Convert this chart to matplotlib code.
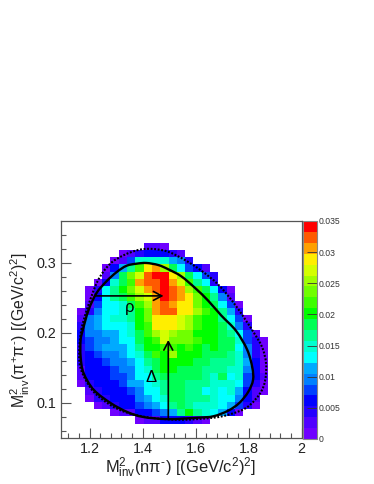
import numpy as np
import matplotlib
matplotlib.use("Agg")
import matplotlib.pyplot as plt
from matplotlib.colors import ListedColormap, BoundaryNorm
from matplotlib.cm import ScalarMappable
from matplotlib.patches import PathPatch
from matplotlib.path import Path

plt.rcParams["font.family"] = ["Liberation Sans", "DejaVu Sans"]
plt.rcParams["mathtext.fontset"] = "custom"
plt.rcParams["mathtext.rm"] = "Liberation Sans"
plt.rcParams["mathtext.it"] = "Liberation Sans"
plt.rcParams["mathtext.bf"] = "Liberation Sans"

# ==============================
# DATA
# ==============================

# histogram cells, as colour level per row from the top
# (level 0-19 = one band of the 0-0.035 palette)
row_start = [8, 5, 4, 3, 3, 2, 1, 1, 1, 0, 0, 0, 0, 0, 0, 0, 0, 0, 0, 0, 1, 1, 2, 4, 7]
row_levels = [
    [1, 1, 0],
    [0, 1, 2, 3, 3, 3, 2, 1],
    [0, 1, 4, 8, 8, 8, 8, 6, 5, 2],
    [0, 3, 6, 9, 12, 16, 17, 14, 10, 7, 4, 3, 1],
    [1, 5, 10, 13, 15, 18, 19, 19, 16, 14, 10, 7, 4, 2],
    [0, 3, 8, 10, 12, 17, 18, 18, 19, 17, 15, 12, 9, 7, 2],
    [0, 2, 7, 9, 11, 13, 15, 17, 18, 19, 18, 17, 14, 12, 10, 7, 3, 0],
    [0, 3, 7, 9, 10, 12, 14, 15, 17, 19, 18, 17, 16, 13, 11, 9, 5, 1],
    [1, 4, 7, 7, 8, 10, 12, 14, 17, 18, 17, 16, 16, 13, 11, 10, 7, 4, 0],
    [0, 2, 5, 7, 7, 8, 9, 11, 13, 17, 18, 18, 16, 16, 14, 12, 11, 9, 6, 2],
    [1, 5, 6, 7, 8, 8, 9, 11, 13, 16, 16, 16, 15, 14, 12, 11, 11, 9, 7, 4, 0],
    [2, 5, 6, 7, 7, 7, 8, 11, 12, 16, 16, 16, 15, 14, 12, 11, 11, 10, 8, 5, 2],
    [3, 5, 5, 6, 6, 7, 8, 10, 12, 14, 15, 14, 13, 13, 11, 11, 11, 10, 9, 7, 4, 1],
    [3, 4, 5, 5, 6, 7, 7, 10, 11, 12, 15, 13, 13, 13, 12, 11, 11, 10, 10, 8, 4, 2, 0],
    [2, 4, 5, 6, 6, 6, 7, 9, 11, 11, 12, 12, 11, 12, 11, 10, 11, 10, 10, 7, 5, 2, 0],
    [2, 3, 4, 5, 5, 6, 7, 8, 10, 12, 11, 14, 11, 11, 11, 10, 10, 10, 9, 8, 5, 2, 0],
    [2, 3, 3, 4, 5, 5, 6, 7, 9, 10, 11, 11, 11, 11, 10, 10, 9, 9, 9, 8, 6, 3, 0],
    [1, 3, 3, 3, 4, 5, 5, 7, 8, 10, 11, 11, 10, 10, 10, 9, 9, 9, 8, 8, 5, 3, 0],
    [1, 3, 3, 3, 4, 4, 5, 7, 7, 9, 10, 10, 10, 10, 10, 9, 8, 10, 7, 8, 4, 3, 1],
    [0, 2, 3, 3, 3, 4, 6, 6, 7, 8, 9, 10, 10, 9, 9, 9, 8, 8, 8, 7, 4, 2, 0],
    [1, 2, 3, 3, 3, 4, 5, 7, 7, 9, 10, 10, 9, 9, 7, 8, 7, 8, 6, 3, 1, 0],
    [0, 2, 2, 3, 3, 3, 5, 6, 7, 8, 10, 10, 9, 9, 9, 8, 7, 7, 5, 3, 1],
    [0, 1, 2, 3, 3, 4, 5, 6, 7, 9, 10, 9, 8, 8, 8, 7, 6, 4, 2, 0],
    [0, 1, 1, 3, 3, 4, 5, 6, 9, 11, 9, 8, 7, 6, 3, 0],
    [0, 1, 1, 3, 3, 3, 2, 1, 0],
]

palette = ["#6f00ff", "#5000ff", "#2400ff", "#0000ff", "#0040ff", "#0080ff",
           "#00aaff", "#00ffff", "#00ffd0", "#00ff90", "#00ff55", "#00ff00",
           "#3cff00", "#70ff00", "#a0ff00", "#d4ff00", "#ffee00", "#ffa000",
           "#ff5a00", "#ff0000"]

# closed outlines, no repeated end point
solid_x = [1.174, 1.166, 1.166, 1.177, 1.215, 1.279, 1.343, 1.403, 1.497, 1.607, 1.667,
           1.723, 1.765, 1.799, 1.817, 1.814, 1.795, 1.753, 1.697, 1.648, 1.599, 1.546,
           1.497, 1.460, 1.415, 1.377, 1.339, 1.302, 1.264, 1.226, 1.196]
solid_y = [0.204, 0.190, 0.166, 0.143, 0.119, 0.100, 0.087, 0.080, 0.077, 0.079, 0.081,
           0.089, 0.100, 0.116, 0.133, 0.151, 0.176, 0.203, 0.225, 0.246, 0.264, 0.281,
           0.291, 0.297, 0.300, 0.299, 0.296, 0.287, 0.274, 0.257, 0.233]

dotted_x = [1.170, 1.162, 1.162, 1.177, 1.215, 1.279, 1.343, 1.430, 1.543, 1.667, 1.731,
            1.795, 1.844, 1.863, 1.866, 1.851, 1.814, 1.750, 1.686, 1.622, 1.561, 1.497,
            1.441, 1.388, 1.328, 1.275, 1.230, 1.192]
dotted_y = [0.207, 0.183, 0.157, 0.139, 0.116, 0.097, 0.086, 0.079, 0.076, 0.079, 0.084,
            0.094, 0.114, 0.133, 0.157, 0.180, 0.204, 0.240, 0.269, 0.289, 0.304, 0.316,
            0.320, 0.319, 0.311, 0.298, 0.274, 0.236]

xticks = [1.2, 1.4, 1.6, 1.8, 2.0]
xticklabels = ["1.2", "1.4", "1.6", "1.8", "2"]
yticks = [0.1, 0.2, 0.3]
bar_ticks = [0, 0.005, 0.01, 0.015, 0.02, 0.025, 0.03, 0.035]
bar_labels = ["0", "0.005", "0.01", "0.015", "0.02", "0.025", "0.03", "0.035"]


def closed_curve(xs, ys):
    # bezier path through the read points, so the outline is not polygonal
    p = np.column_stack([xs, ys])
    n = len(p)
    verts = [p[0]]
    codes = [Path.MOVETO]
    for i in range(n):
        a, b, c, d = p[i - 1], p[i], p[(i + 1) % n], p[(i + 2) % n]
        verts += [b + (c - a) / 6, c - (d - b) / 6, c]
        codes += [Path.CURVE4] * 3
    return Path(verts, codes)


# ==============================
# BUILD HISTOGRAM
# ==============================

nx, ny = 29, 30
x_edges = np.linspace(1.09, 2.0, nx + 1)
y_edges = np.linspace(0.36, 0.05, ny + 1)
band = 0.035 / len(palette)

z = np.full((ny, nx), np.nan)
for j, (start, levels) in enumerate(zip(row_start, row_levels)):
    for i, level in enumerate(levels):
        z[j + 3, start + i + 2] = (level + 0.5) * band

cmap = ListedColormap(palette)
norm = BoundaryNorm(np.linspace(0, 0.035, len(palette) + 1), len(palette))

# ==============================
# PLOT
# ==============================

W, H = 374, 484
frame = "#555555"
fig = plt.figure(figsize=(W / 100, H / 100), dpi=100)
ax = fig.add_axes([60.5 / W, (H - 438) / H, 241 / W, 217 / H])
ax.pcolormesh(x_edges, y_edges, z, cmap=cmap, norm=norm, linewidth=0)

ax.add_patch(PathPatch(closed_curve(dotted_x, dotted_y), fill=False, edgecolor="black",
                       lw=1.5, ls=(0, (0.9, 0.8))))
ax.add_patch(PathPatch(closed_curve(solid_x, solid_y), fill=False, edgecolor="black", lw=1.7))

arrow = dict(arrowstyle="->,head_length=0.6,head_width=0.32", color="black", lw=1.2,
             shrinkA=0, shrinkB=0)
ax.annotate("", xy=(1.479, 0.253), xytext=(1.223, 0.253), arrowprops=arrow)
ax.annotate("", xy=(1.497, 0.190), xytext=(1.497, 0.077), arrowprops=arrow)
ax.text(1.351, 0.237, "ρ", fontsize=12, ha="center", va="center")
ax.text(1.433, 0.136, "Δ", fontsize=12, ha="center", va="center")

ax.set_xlim(1.09, 2.0)
ax.set_ylim(0.05, 0.36)
ax.set_xticks(xticks)
ax.set_xticklabels(xticklabels)
ax.set_yticks(yticks)
ax.set_xticks(np.arange(1.12, 2.0, 0.04), minor=True)
ax.set_yticks(np.arange(0.06, 0.36, 0.02), minor=True)
ax.tick_params(axis="both", which="major", direction="in", length=7, width=0.8,
               color=frame, labelsize=10.4, labelcolor="#222222", pad=3)
ax.tick_params(axis="both", which="minor", direction="in", length=3.5, width=0.8, color=frame)
for side in ax.spines.values():
    side.set_color(frame)
    side.set_linewidth(0.9)

fig.text(181 / W, 1 - 468 / H,
         r"M$^{2}_{\mathrm{inv}}$(n$\pi^{\text{-}}$) [(GeV/c$^{2}$)$^{2}$]",
         fontsize=11.9, ha="center", va="center", color="#222222")
fig.text(20 / W, 1 - 330 / H,
         r"M$^{2}_{\mathrm{inv}}$($\pi^{+}\pi^{\text{-}}$) [(GeV/c$^{2}$)$^{2}$]",
         fontsize=11.4, ha="center", va="center", rotation=90, color="#222222")

# colour bar drawn with the same palette
cax = fig.add_axes([303 / W, (H - 439) / H, 14 / W, 218 / H])
bar = fig.colorbar(ScalarMappable(norm=norm, cmap=cmap), cax=cax, ticks=bar_ticks,
                   spacing="proportional", drawedges=False)
bar.ax.set_yticklabels(bar_labels)
bar.ax.minorticks_off()
bar.ax.tick_params(axis="y", direction="in", length=7, width=0.6, color="#333333",
                   labelsize=6.2, labelcolor="#333333", pad=1.5)
bar.outline.set_edgecolor("#888888")
bar.outline.set_linewidth(0.8)

plt.savefig("out.png", dpi=100)
